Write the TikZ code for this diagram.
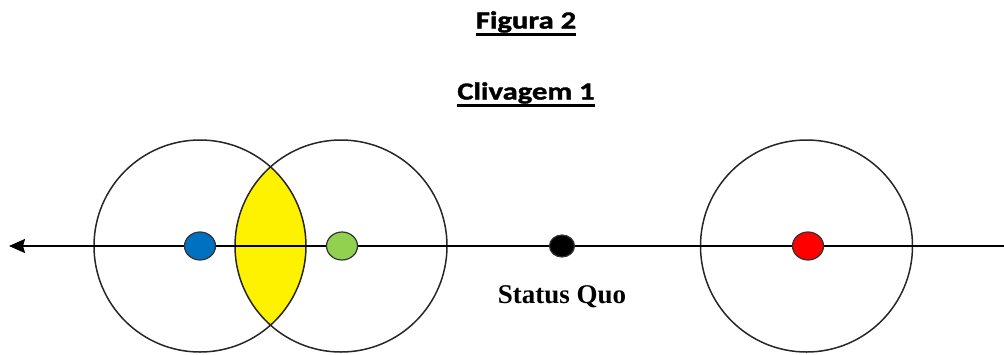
\documentclass[tikz,border=0pt]{standalone}
\usepackage{fontspec}
\setmainfont{Liberation Serif}
\newfontfamily\titlefont[FakeStretch=1.25,FakeBold=1.5]{Carlito}
\usetikzlibrary{arrows.meta, shapes.geometric}

\begin{document}
\begin{tikzpicture}[x=1pt,y=-1pt]
\def\axisrow{246}
\def\radius{106}
\definecolor{prefblue}{RGB}{0,112,192}
\definecolor{prefgreen}{RGB}{146,208,80}
\definecolor{prefred}{RGB}{255,0,0}
\tikzset{
  title/.style={anchor=base,inner sep=0pt,font=\titlefont\bfseries\fontsize{24.5}{28}\selectfont},
  ring/.style={draw=black!85,line width=1.5pt},
  dot/.style={ellipse,draw=black!80,line width=1.2pt,inner sep=0pt,minimum width=31pt,minimum height=28pt}
}
\useasboundingbox (0,0) rectangle (1004,354);

\coordinate (C1) at (200,\axisrow);
\coordinate (C2) at (341,\axisrow);
\coordinate (C3) at (806.5,\axisrow);
\coordinate (tip) at (9,\axisrow);
\coordinate (end) at (1004,\axisrow);

% titles
\node[title] (fig) at (526,28.5) {Figura 2};
\node[title] (cliv) at (526,99.5) {Clivagem 1};
\foreach \t in {fig,cliv} {
  \draw[line width=2.6pt] ([yshift=-6pt]\t.base west) -- ([yshift=-6pt]\t.base east);
}

% overlap of the first two circles
\begin{scope}
  \clip (C1) circle[radius=\radius];
  \fill[yellow] (C2) circle[radius=\radius];
\end{scope}

\foreach \c in {C1,C2,C3} {
  \draw[ring] (\c) circle[radius=\radius];
}

\draw[line width=2pt,-{Stealth[length=16pt,width=14pt,inset=2pt]}]
  (end) -- (tip);

\node[dot,fill=prefblue] (blue) at (200,\axisrow) {};
\node[dot,fill=prefgreen] (green) at (342,\axisrow) {};
\node[dot,fill=black,minimum width=25pt,minimum height=22pt] (quo) at (562,\axisrow) {};
\node[dot,fill=prefred] (red) at (808,\axisrow) {};

\node[anchor=base,inner sep=0pt,font=\bfseries\fontsize{27}{30}\selectfont] (quolabel) at (562,303) {Status Quo};
\end{tikzpicture}
\end{document}
